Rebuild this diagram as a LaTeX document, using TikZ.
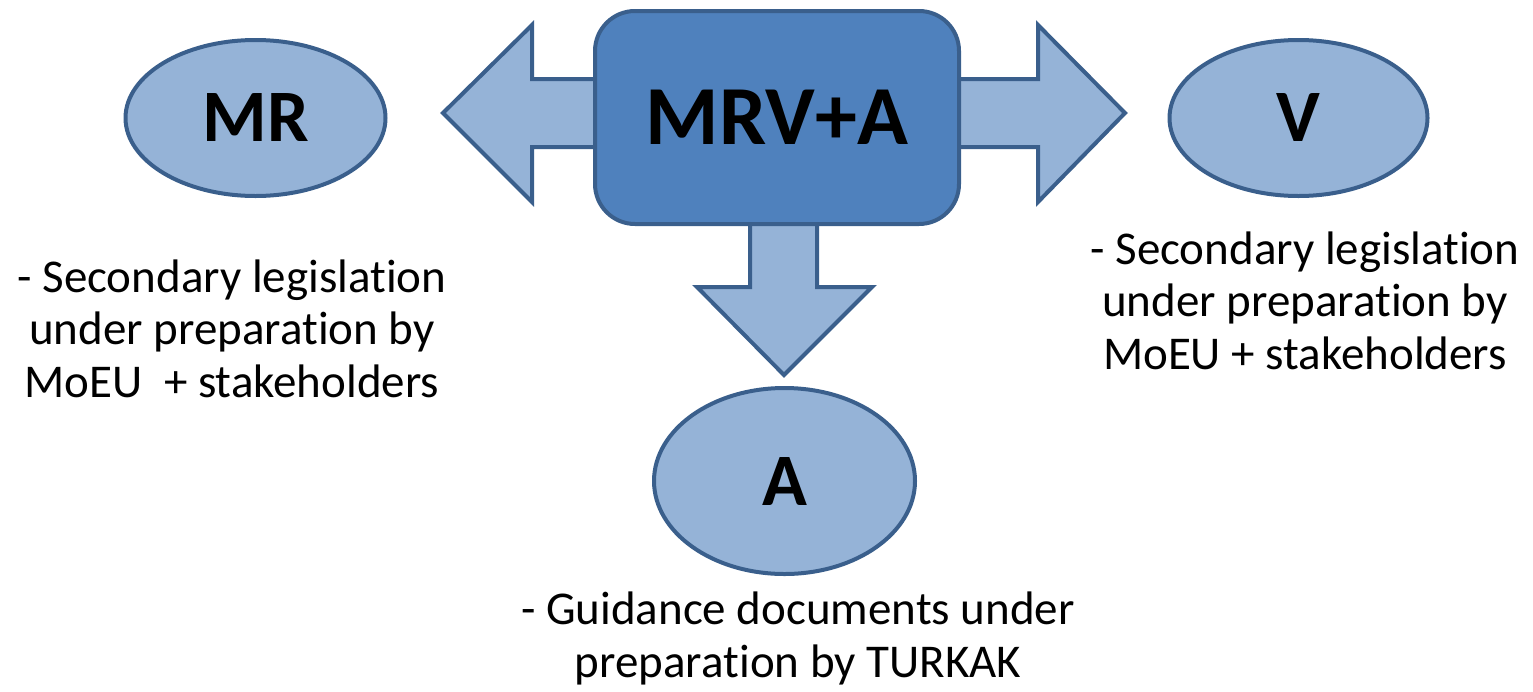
\documentclass[tikz,border=0pt]{standalone}
\usepackage{fontspec}
\setmainfont{Carlito}[Ligatures=NoCommon]
\usetikzlibrary{shapes.geometric}
\definecolor{boxfill}{HTML}{4F81BD}
\definecolor{lightfill}{HTML}{95B3D7}
\definecolor{edge}{HTML}{3A5F8C}
\tikzset{
  bigarrow/.style={fill=lightfill, draw=edge, line width=4pt, line join=miter},
  oval/.style={ellipse, fill=lightfill, draw=edge, line width=4pt, inner sep=0pt,
    font=\fontsize{74}{80}\selectfont\bfseries},
  mainbox/.style={rectangle, rounded corners=40pt, fill=boxfill, draw=edge, line width=4pt,
    minimum width=364pt, minimum height=213pt, inner sep=0pt,
    font=\fontsize{84}{90}\selectfont\bfseries},
  note/.style={align=center, inner sep=0pt, font=\fontsize{47}{52.5}\selectfont}
}
\begin{document}
\begin{tikzpicture}[x=1pt,y=-1pt]
\useasboundingbox (0,0) rectangle (1533,691);
% arrows (behind the box)
\draw[bigarrow] (443,113) -- (532,25) -- (532,79) -- (610,79) -- (610,147) -- (532,147) -- (532,202) -- cycle;
\draw[bigarrow] (1125,113) -- (1038,25) -- (1038,79) -- (945,79) -- (945,147) -- (1038,147) -- (1038,202) -- cycle;
\draw[bigarrow] (784,375) -- (697,287) -- (750,287) -- (750,210) -- (817,210) -- (817,287) -- (872,287) -- cycle;
% central box
\node[mainbox] (mrva) at (777,117.5) {MRV+A};
% ellipses
\node[oval, minimum width=260pt, minimum height=156pt] (mr) at (255.5,118) {MR};
\node[oval, minimum width=258pt, minimum height=156pt] (v) at (1298.5,118) {V};
\node[oval, minimum width=261pt, minimum height=186pt] (a) at (784.5,481) {A};
% notes (base = baseline of last line)
\node[note, anchor=base] (mrnote) at (232,397) {- Secondary legislation\\under preparation by\\MoEU~~+ stakeholders};
\node[note, anchor=base] (vnote) at (1305,369) {- Secondary legislation\\under preparation by\\MoEU + stakeholders};
\node[note, anchor=base] (anote) at (798,677) {- Guidance documents under\\preparation by TURKAK};
\end{tikzpicture}
\end{document}
